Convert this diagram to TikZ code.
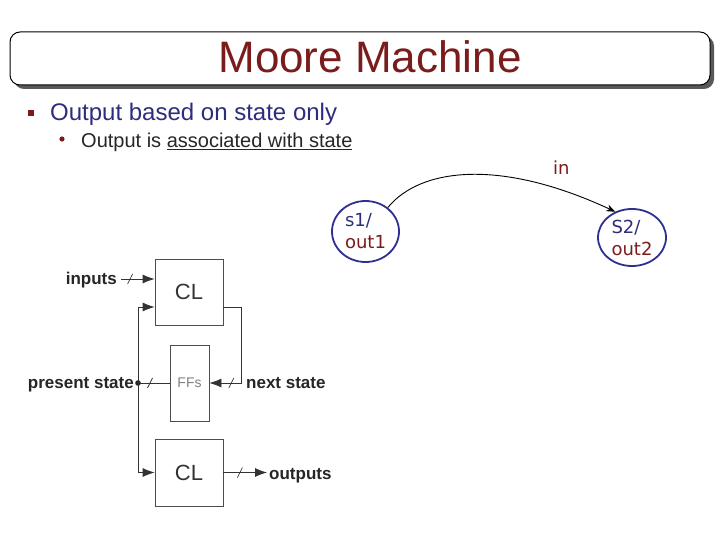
\documentclass[tikz,border=0pt]{standalone}
\usepackage{fontspec}
\setmainfont{Liberation Sans}
\newfontfamily\vfont{DejaVu Sans}
\usetikzlibrary{shapes.geometric,arrows.meta,decorations.markings}
\definecolor{dred}{HTML}{7B1C1C}
\definecolor{navy}{HTML}{2D2D7D}
\definecolor{ering}{HTML}{2E3192}
\begin{document}
\begin{tikzpicture}[x=1pt,y=-1pt,
  box/.style={draw=black!70, line width=0.8pt, fill=white, inner sep=0pt},
  conn/.style={draw=black!80, line width=0.8pt},
  arr/.style={conn, -{Latex[length=12pt,width=9pt]}},
  busslash/.style={postaction={decorate,decoration={markings,mark=at position #1 with {\draw[-,solid,black!80,line width=0.7pt] (-2.5pt,-5pt)--(2.5pt,5pt);}}}},
  lbl/.style={font=\bfseries\fontsize{17}{20}\selectfont, inner sep=0pt, text=black!85},
  state/.style={ellipse, draw=ering, line width=1.8pt, inner sep=0pt, align=left, font=\vfont\fontsize{18}{22}\selectfont}
]
\useasboundingbox (0,0) rectangle (720,540);
\fill[white] (0,0) rectangle (720,540);

% title box
\fill[black!65, rounded corners=10pt] (14,36) rectangle (714,89);
\draw[black, line width=1pt, fill=white, rounded corners=10pt] (10,32) rectangle (710,85);
\node[anchor=base, text=dred, font=\fontsize{44}{50}\selectfont, inner sep=0pt] (title) at (370,73) {Moore Machine};

% bullets
\fill[dred] (27.5,110) rectangle (34,116.5);
\node[anchor=base west, text=navy, font=\fontsize{24}{28}\selectfont, inner sep=0pt] (b1) at (50,121) {Output based on state only};
\fill[dred] (62,139) circle (2.6);
\node[anchor=base west, text=black!85, font=\fontsize{20}{24}\selectfont, inner sep=0pt] (b2) at (81,148) {Output is \underline{associated with state}};

% state diagram
\node[state, minimum width=67, minimum height=61] (s1) at (365.5,231.5) {\textcolor{navy}{s1/}\\\textcolor{dred}{out1}};
\node[state, minimum width=68, minimum height=57] (s2) at (632,237.5) {\textcolor{navy}{S2/}\\\textcolor{dred}{out2}};
\draw[black, line width=0.9pt, -{Stealth[length=9pt,width=7pt]}] (s1.47) .. controls (420,168) and (500,158) .. (s2.123);
\node[anchor=base west, inner sep=0pt, text=dred, font=\vfont\fontsize{18}{20}\selectfont] (inlbl) at (553,175) {in};

% block diagram
\node[box, minimum width=68, minimum height=66, font=\fontsize{22}{24}\selectfont, text=black!80] (cl1) at (189,292) {CL};
\node[box, minimum width=39, minimum height=76, font=\fontsize{14}{16}\selectfont, text=black!50] (ffs) at (189.5,383) {FFs};
\node[box, minimum width=68, minimum height=67, font=\fontsize{22}{24}\selectfont, text=black!80] (cl2) at (189,472.5) {CL};

\coordinate (fb) at (0,307);
\coordinate (inS) at (121,279);
\coordinate (ps) at (138,383);
\coordinate (nsc) at (241,383);
\coordinate (outE) at (267,472.5);

\node[lbl, anchor=base east] (inlab) at (117,284) {inputs};
\node[lbl, anchor=base east] (pslab) at (134,388) {present state};
\node[lbl, anchor=base west] (nslab) at (246,388) {next state};
\node[lbl, anchor=base west] (outlab) at (269,479) {outputs};

\draw[arr, busslash=0.27] (inS) -- (inS -| cl1.west);
\draw[conn, busslash=0.62] (ffs.west) -- (ps);
\fill[black!85] (ps) circle (2.8);
\draw[arr] (ps) |- (fb -| cl1.west);
\draw[arr] (ps) |- (cl2.west);
\draw[arr, busslash=0.825] (fb -| cl1.east) -| (nsc) -- (ffs.east);
\draw[arr, busslash=0.38] (cl2.east) -- (outE);
\end{tikzpicture}
\end{document}
